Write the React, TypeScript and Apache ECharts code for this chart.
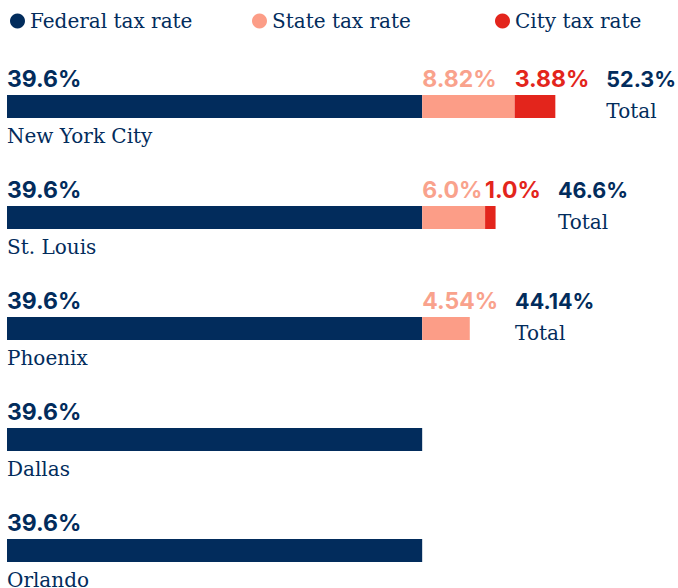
import React, { useEffect, useRef } from "react";
import * as echarts from "echarts";

const cities = ["New York City", "St. Louis", "Phoenix", "Dallas", "Orlando"];
const federalRates = [39.6, 39.6, 39.6, 39.6, 39.6];
const stateRates = [8.82, 6.0, 4.54, null, null];
const cityRates = [3.88, 1.0, null, null, null];
const federalLabels = ["39.6%", "39.6%", "39.6%", "39.6%", "39.6%"];
const stateLabels = ["8.82%", "6.0%", "4.54%", "", ""];
const cityLabels = ["3.88%", "1.0%", "", "", ""];
const totalLabels = ["52.3%", "46.6%", "44.14%", "", ""];
const seriesNames = ["Federal tax rate", "State tax rate", "City tax rate"];

const NAVY = "#022c5c";
const SALMON = "#fc9d87";
const SALMON_TEXT = "#f9a28c";
const RED = "#e3251c";
const SANS = "Inter";
const SERIF = "DejaVu Serif";
const VALUE_SIZE = 23;
const TOTAL_SIZE = 21.5;
const NAME_SIZE = 20;

function measure(text: string): number {
  const c = document.createElement("canvas");
  const ctx = c.getContext("2d");
  if (!ctx) return text.length * 14;
  ctx.font = `700 ${VALUE_SIZE}px ${SANS}`;
  return ctx.measureText(text).width;
}

export default function App() {
  const ref = useRef<HTMLDivElement>(null);
  useEffect(() => {
    if (!ref.current) return;
    const chart = echarts.init(ref.current, undefined, { renderer: "svg" });

    const valueLabel = (labels: string[], color: string) => ({
      show: true,
      position: [0, -16],
      align: "left",
      verticalAlign: "middle",
      formatter: (p: any) => labels[p.dataIndex] || "",
      color,
      fontFamily: SANS,
      fontWeight: 700,
      fontSize: VALUE_SIZE,
    });

    const toData = (arr: (number | null)[]) => arr.map((v) => (v == null ? "-" : v));

    const totalData: any[] = [];
    cities.forEach((c, i) => {
      if (!totalLabels[i]) return;
      const hasCity = cityRates[i] != null;
      const lastStart = hasCity ? federalRates[i] + (stateRates[i] || 0) : federalRates[i];
      const lastText = hasCity ? cityLabels[i] : stateLabels[i];
      const dx = measure(lastText) + 17;
      totalData.push({ value: [lastStart, c], dx, idx: i });
    });

    const legendBase = {
      top: 11,
      padding: 0,
      icon: "circle",
      itemWidth: 15,
      itemHeight: 15,
      selectedMode: false,
      textStyle: { fontFamily: SERIF, fontSize: NAME_SIZE, color: NAVY },
    };

    const scatterBase = {
      type: "scatter",
      silent: true,
      symbolSize: 0,
      itemStyle: { color: "transparent", opacity: 1 },
    };

    chart.setOption({
      animation: false,
      tooltip: { show: false },
      legend: [
        { ...legendBase, left: 10, data: [seriesNames[0]] },
        { ...legendBase, left: 252, data: [seriesNames[1]] },
        { ...legendBase, left: 495, data: [seriesNames[2]] },
      ],
      grid: { left: 7, top: 51, width: 671, height: 555, outerBoundsMode: "none", containLabel: false },
      xAxis: { type: "value", min: 0, max: 64, show: false },
      yAxis: { type: "category", data: cities, inverse: true, show: false },
      series: [
        {
          name: seriesNames[0],
          type: "bar",
          stack: "tax",
          barWidth: 23,
          silent: true,
          itemStyle: { color: NAVY },
          label: valueLabel(federalLabels, NAVY),
          data: toData(federalRates),
        },
        {
          name: seriesNames[1],
          type: "bar",
          stack: "tax",
          barWidth: 23,
          silent: true,
          itemStyle: { color: SALMON },
          label: valueLabel(stateLabels, SALMON_TEXT),
          data: toData(stateRates),
        },
        {
          name: seriesNames[2],
          type: "bar",
          stack: "tax",
          barWidth: 23,
          silent: true,
          itemStyle: { color: RED },
          label: valueLabel(cityLabels, RED),
          data: toData(cityRates),
        },
        {
          ...scatterBase,
          name: "names",
          label: {
            show: true,
            position: [0, 29.5],
            align: "left",
            verticalAlign: "middle",
            formatter: (p: any) => cities[p.dataIndex],
            fontFamily: SERIF,
            fontSize: NAME_SIZE,
            color: NAVY,
            opacity: 1,
          },
          data: cities.map((c) => [0, c]),
        },
        {
          ...scatterBase,
          name: "totalValues",
          data: totalData.map((d) => ({
            value: d.value,
            label: {
              show: true,
              position: [d.dx, -27.5],
              align: "left",
              verticalAlign: "middle",
              formatter: totalLabels[d.idx],
              fontFamily: SANS,
              fontWeight: 700,
              fontSize: TOTAL_SIZE,
              color: NAVY,
              opacity: 1,
            },
          })),
        },
        {
          ...scatterBase,
          name: "totalWords",
          data: totalData.map((d) => ({
            value: d.value,
            label: {
              show: true,
              position: [d.dx, 4],
              align: "left",
              verticalAlign: "middle",
              formatter: "Total",
              fontFamily: SERIF,
              fontSize: NAME_SIZE,
              color: NAVY,
              opacity: 1,
            },
          })),
        },
      ],
    });
    return () => chart.dispose();
  }, []);

  return (
    <div
      ref={ref}
      style={{ position: "absolute", left: 0, top: 0, width: 678, height: 588 }}
    />
  );
}
